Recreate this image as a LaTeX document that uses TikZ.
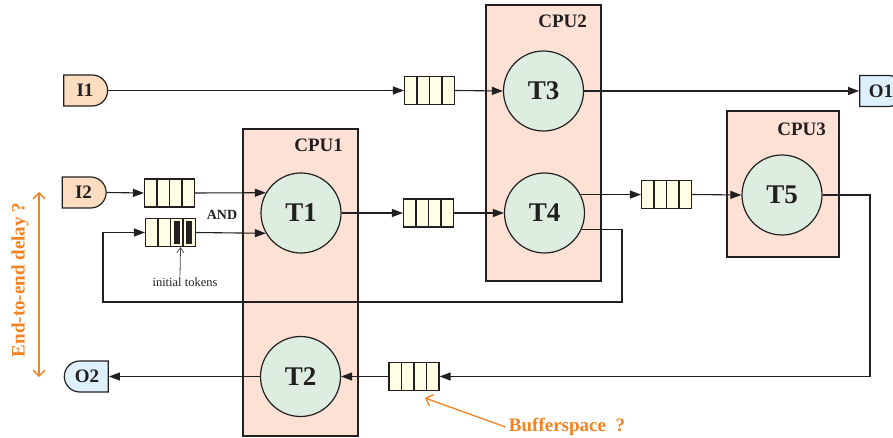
\documentclass[tikz,border=0pt]{standalone}
\usepackage{fontspec}
\setmainfont{Liberation Serif}
\usetikzlibrary{arrows.meta,shapes.misc}

\definecolor{linec}{RGB}{35,31,32}
\definecolor{cpufill}{RGB}{252,225,212}
\definecolor{taskfill}{RGB}{221,238,224}
\definecolor{queuefill}{RGB}{255,253,227}
\definecolor{infill}{RGB}{252,221,192}
\definecolor{outfill}{RGB}{221,240,252}
\definecolor{notec}{RGB}{245,130,32}

% cell dividers of a four place buffer
\newcommand{\queuecells}{\foreach \k in {1,2,3}
  \draw[linec,line width=1.1pt] ([xshift=\k*12.5pt]path picture bounding box.north west)
    -- ([xshift=\k*12.5pt]path picture bounding box.south west);}

\begin{document}
\begin{tikzpicture}[x=1pt,y=-1pt,
  conn/.style={draw=linec,line width=1.1pt,-{Triangle[length=11pt,width=8pt]}},
  cpu/.style={draw=linec,line width=1.3pt,fill=cpufill,inner sep=0pt},
  cpulabel/.style={text=linec,font=\fontsize{19}{20}\selectfont\bfseries},
  task/.style={circle,draw=linec,line width=1.2pt,fill=taskfill,minimum size=80pt,
    inner sep=0pt,text=linec,font=\fontsize{27}{28}\selectfont\bfseries},
  queue/.style={draw=linec,line width=1.1pt,fill=queuefill,minimum width=50pt,
    minimum height=28pt,inner sep=0pt,path picture={\queuecells}},
  tokqueue/.style={queue,path picture={\queuecells
    \foreach \k in {2,3}
      \fill[linec] ([shift={(\k*12.5pt+3.25pt,-3pt)}]path picture bounding box.north west)
        rectangle ++(6pt,-22pt);}},
  port/.style={rounded rectangle,draw=linec,line width=1.2pt,minimum width=44pt,
    minimum height=31pt,inner sep=0pt,text=linec,font=\fontsize{19}{20}\selectfont\bfseries},
  inport/.style={port,fill=infill,rounded rectangle west arc=none},
  outport/.style={port,fill=outfill},
  note/.style={text=notec,font=\fontsize{19}{20}\selectfont\bfseries},
  notearrow/.style={draw=notec,line width=1.3pt},
  tokarrow/.style={draw=linec!80,line width=0.8pt,-{Straight Barb[length=5pt,width=7pt]}}]
  \useasboundingbox (0,0) rectangle (893,438);

  % processors
  \node[cpu,minimum width=115pt,minimum height=307pt] (cpu1) at (300.5,282.5) {};
  \node[cpu,minimum width=115pt,minimum height=276pt] (cpu2) at (543.5,143) {};
  \node[cpu,minimum width=112pt,minimum height=146pt] (cpu3) at (783,184) {};
  \node[cpulabel] (cpu1lbl) at ([shift={(-40,17)}]cpu1.north east) {CPU1};
  \node[cpulabel] (cpu2lbl) at ([shift={(-39,17)}]cpu2.north east) {CPU2};
  \node[cpulabel] (cpu3lbl) at ([shift={(-38,19)}]cpu3.north east) {CPU3};

  % tasks
  \node[task] (T1) at (301,213) {T1};
  \node[task] (T2) at (300.5,376.5) {T2};
  \node[task] (T3) at (543.5,91) {T3};
  \node[task] (T4) at (544.5,213) {T4};
  \node[task] (T5) at (782,195) {T5};

  % buffers
  \node[queue] (qa) at (429.5,90.5) {};
  \node[queue] (qb) at (169.5,193) {};
  \node[tokqueue] (qc) at (170.5,232.5) {};
  \node[queue] (qd) at (428.5,213) {};
  \node[queue] (qe) at (666.5,194.5) {};
  \node[queue] (qf) at (414,376.5) {};

  % inputs and outputs
  \node[inport] (I1) at (85,90.5) {I1};
  \node[inport] (I2) at (83.5,192.5) {I2};
  \node[outport,rounded rectangle west arc=none] (O1) at (881,91) {O1};
  \node[outport,rounded rectangle east arc=none] (O2) at (87,376.5) {O2};

  \coordinate (fbr) at (622,302); \coordinate (fbl) at (103,302);
  \coordinate (rb) at (870,376.5);

  % channels
  \draw[conn] (I1.east) -- (qa.west);
  \draw[conn] (qa.east) -- (T3.west);
  \draw[conn] (T3.east) -- (O1.west);
  \draw[conn] (I2.east) -- (qb.west);
  \draw[conn] (qb.east) -- (T1.150);
  \draw[conn] (qc.east) -- (T1.210);
  \draw[conn] (T1.east) -- (qd.west);
  \draw[conn] (qd.east) -- (T4.west);
  \draw[conn] (T4.27) -- (T4.27 -| qe.west);
  \draw[conn] (qe.east) -- (T5.west);
  \draw[conn] (T4.-24) -| (fbr) -- (fbl) |- (qc.west);
  \draw[conn] (T5.east) -| (rb) -- (qf.east);
  \draw[conn] (qf.west) -- (T2.east);
  \draw[conn] (T2.west) -- (O2.east);

  \node[text=linec,font=\fontsize{14}{15}\selectfont\bfseries] (andlbl) at (222,215) {AND};
  \node[text=linec,font=\fontsize{12.5}{13}\selectfont,inner sep=1pt] (toklbl) at (185,282) {initial tokens};
  \draw[tokarrow] ([xshift=-5pt]toklbl.north) -- ([xshift=10pt]qc.south);

  % questions
  \node[note,rotate=90] (e2e) at (20,280) {End-to-end delay ?};
  \coordinate (dtop) at (39,192); \coordinate (dbot) at (39,377);
  \draw[notearrow,{Straight Barb[length=6pt,width=12pt]}-{Straight Barb[length=6pt,width=12pt]}] (dtop) -- (dbot);
  \node[note] (buflbl) at (567,427) {Bufferspace\ \ ?};
  \coordinate (bufpt) at (425,398);
  \draw[notearrow,-{Straight Barb[length=6pt,width=12pt]}] (buflbl.west) -- (bufpt);
\end{tikzpicture}
\end{document}
